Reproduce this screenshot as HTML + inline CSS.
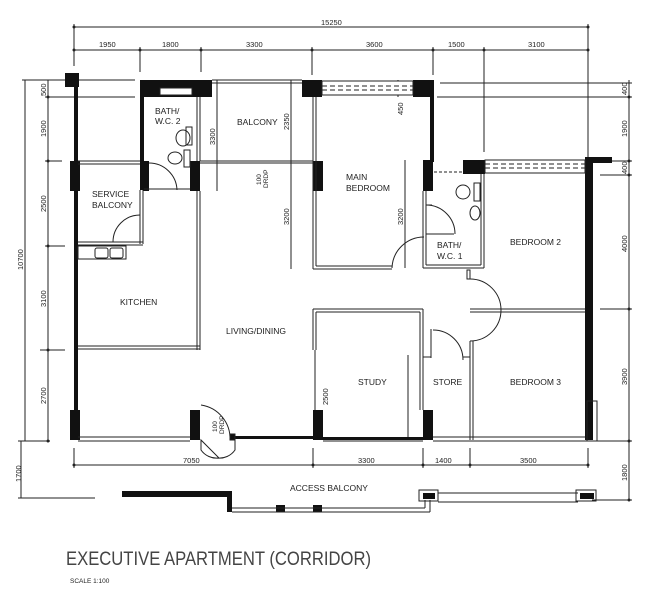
<!DOCTYPE html>
<html><head><meta charset="utf-8"><style>
html,body{margin:0;padding:0;background:#fff;}
svg{display:block;}
text{font-family:"Liberation Sans",sans-serif;fill:#222;}
</style></head><body>
<svg width="645" height="600" viewBox="0 0 645 600" xmlns="http://www.w3.org/2000/svg">
<g stroke="#222" stroke-width="1" fill="none">
<!-- top dims -->
<line x1="74" y1="27" x2="588" y2="27"/>
<line x1="74" y1="50" x2="588" y2="50"/>
<line x1="74" y1="24" x2="74" y2="66"/>
<line x1="588" y1="24" x2="588" y2="160"/>
<line x1="140" y1="47" x2="140" y2="72"/>
<line x1="201" y1="47" x2="201" y2="72"/>
<line x1="312" y1="47" x2="312" y2="75"/>
<line x1="433" y1="47" x2="433" y2="75"/>
<line x1="484" y1="47" x2="484" y2="152"/>
<!-- left dims -->
<line x1="25" y1="80" x2="25" y2="441"/>
<line x1="48" y1="80" x2="48" y2="441"/>
<line x1="21" y1="441" x2="21" y2="498"/>
<line x1="22" y1="80" x2="135" y2="80"/>
<line x1="45" y1="97" x2="135" y2="97"/>
<line x1="45" y1="161" x2="62" y2="161"/>
<line x1="45" y1="246" x2="65" y2="246"/>
<line x1="40" y1="350" x2="65" y2="350"/>
<line x1="18" y1="441" x2="50" y2="441"/>
<line x1="18" y1="498" x2="95" y2="498"/>
<!-- right dims -->
<line x1="629" y1="80" x2="629" y2="500"/>
<line x1="440" y1="83" x2="632" y2="83"/>
<line x1="437" y1="97" x2="632" y2="97"/>
<line x1="600" y1="161" x2="632" y2="161"/>
<line x1="600" y1="175" x2="632" y2="175"/>
<line x1="600" y1="309" x2="632" y2="309"/>
<line x1="600" y1="441" x2="632" y2="441"/>
<line x1="592" y1="500" x2="632" y2="500"/>
<!-- bottom dims -->
<line x1="74" y1="465" x2="588" y2="465"/>
<line x1="74" y1="448" x2="74" y2="468"/>
<line x1="313" y1="448" x2="313" y2="468"/>
<line x1="423" y1="448" x2="423" y2="468"/>
<line x1="470" y1="448" x2="470" y2="468"/>
<line x1="588" y1="448" x2="588" y2="468"/>
<!-- interior dims -->
<line x1="291" y1="80" x2="291" y2="269"/>
<line x1="217" y1="80" x2="217" y2="191"/>
<line x1="405" y1="160" x2="405" y2="268"/>
<line x1="398" y1="80" x2="398" y2="97"/>
<line x1="408" y1="355" x2="408" y2="440"/>
</g>
<g fill="#222">
<circle cx="74" cy="27" r="1.5"/><circle cx="588" cy="27" r="1.5"/>
<circle cx="74" cy="50" r="1.5"/><circle cx="140" cy="50" r="1.5"/><circle cx="201" cy="50" r="1.5"/><circle cx="312" cy="50" r="1.5"/><circle cx="433" cy="50" r="1.5"/><circle cx="484" cy="50" r="1.5"/><circle cx="588" cy="50" r="1.5"/>
<circle cx="48" cy="97" r="1.5"/><circle cx="48" cy="161" r="1.5"/><circle cx="48" cy="246" r="1.5"/><circle cx="48" cy="350" r="1.5"/><circle cx="48" cy="441" r="1.5"/>
<circle cx="629" cy="97" r="1.5"/><circle cx="629" cy="161" r="1.5"/><circle cx="629" cy="175" r="1.5"/><circle cx="629" cy="309" r="1.5"/><circle cx="629" cy="441" r="1.5"/><circle cx="629" cy="500" r="1.5"/>
<circle cx="74" cy="465" r="1.5"/><circle cx="313" cy="465" r="1.5"/><circle cx="423" cy="465" r="1.5"/><circle cx="470" cy="465" r="1.5"/><circle cx="588" cy="465" r="1.5"/>
</g>
<!-- walls -->
<g fill="#111">
<rect x="65" y="73" width="14" height="14"/>
<rect x="74" y="80" width="4" height="360"/>
<rect x="70" y="161" width="10" height="30"/>
<rect x="70" y="410" width="10" height="30"/>
<rect x="140" y="80" width="72" height="17"/>
<rect x="140" y="80" width="4" height="110"/>
<rect x="143" y="161" width="6" height="30"/>
<rect x="190" y="161" width="10" height="30"/>
<rect x="190" y="410" width="10" height="30"/>
<rect x="302" y="80" width="20" height="17"/>
<rect x="413" y="80" width="20" height="17"/>
<rect x="430" y="80" width="4" height="82"/>
<rect x="313" y="161" width="10" height="30"/>
<rect x="423" y="160" width="10" height="31"/>
<rect x="463" y="160" width="22" height="14"/>
<rect x="585" y="157" width="27" height="6"/>
<rect x="585" y="160" width="8" height="280"/>
<rect x="313" y="410" width="10" height="30"/>
<rect x="423" y="410" width="10" height="30"/>
<rect x="122" y="491" width="110" height="6"/>
<rect x="227" y="491" width="5" height="21"/>
<rect x="276" y="505" width="9" height="7"/>
<rect x="313" y="505" width="9" height="7"/>
<rect x="423" y="493" width="12" height="6"/>
<rect x="580" y="493" width="14" height="6"/>
<rect x="235" y="436" width="78" height="3"/>
<rect x="323" y="437" width="100" height="3"/>
</g>
<g stroke="#222" stroke-width="1" fill="none">
<!-- bottom wall double line -->
<line x1="78" y1="437" x2="190" y2="437"/><line x1="78" y1="441" x2="190" y2="441"/>
<line x1="433" y1="437" x2="585" y2="437"/><line x1="433" y1="441" x2="600" y2="441"/>
<line x1="323" y1="441" x2="423" y2="441"/>
<rect x="587" y="401" width="10" height="40"/>
<!-- kitchen / service balcony -->
<line x1="78" y1="161" x2="140" y2="161"/><line x1="78" y1="164" x2="140" y2="164"/>
<line x1="140" y1="190" x2="140" y2="244"/><line x1="143" y1="190" x2="143" y2="244"/>
<line x1="78" y1="242" x2="143" y2="242"/><line x1="78" y1="245" x2="143" y2="245"/>
<path d="M113 242 A27 27 0 0 1 140 215"/>
<rect x="78" y="246" width="48" height="13"/>
<rect x="95" y="248" width="13" height="10" rx="2"/><rect x="110" y="248" width="13" height="10" rx="2"/>
<line x1="197" y1="191" x2="197" y2="350"/><line x1="200" y1="191" x2="200" y2="350"/>
<line x1="78" y1="346" x2="200" y2="346"/><line x1="78" y1="349" x2="200" y2="349"/>
<!-- bath2 -->
<line x1="144" y1="189" x2="190" y2="189"/>
<line x1="197" y1="97" x2="197" y2="161"/><line x1="200" y1="97" x2="200" y2="161"/>
<path d="M149 163 A28 28 0 0 1 177 190"/>
<rect x="160" y="88" width="32" height="7" fill="#fff"/>
<ellipse cx="183" cy="138" rx="7" ry="8"/><ellipse cx="175" cy="158" rx="7" ry="6"/>
<rect x="186" y="127" width="6" height="18"/><rect x="184" y="150" width="6" height="17"/>
<!-- balcony -->
<line x1="212" y1="80" x2="302" y2="80"/><line x1="212" y1="83" x2="302" y2="83"/>
<line x1="200" y1="161" x2="313" y2="161"/><line x1="200" y1="163" x2="313" y2="163"/>
<!-- main bedroom -->
<rect x="322" y="81" width="91" height="14" fill="#fff"/>
<line x1="322" y1="86" x2="413" y2="86" stroke-dasharray="5 3"/>
<line x1="322" y1="90" x2="413" y2="90" stroke-dasharray="5 3"/>
<line x1="313" y1="97" x2="313" y2="269"/><line x1="316" y1="97" x2="316" y2="266"/>
<line x1="313" y1="269" x2="392" y2="269"/><line x1="316" y1="266" x2="392" y2="266"/>
<path d="M392 268 A32 32 0 0 1 424 237"/>
<!-- bath1 -->
<line x1="423" y1="191" x2="423" y2="268"/><line x1="426" y1="191" x2="426" y2="265"/>
<line x1="423" y1="268" x2="484" y2="268"/><line x1="426" y1="265" x2="481" y2="265"/>
<line x1="484" y1="174" x2="484" y2="268"/><line x1="481" y1="174" x2="481" y2="265"/>
<line x1="426" y1="205" x2="432" y2="205"/><line x1="426" y1="234" x2="454" y2="234"/>
<path d="M426 205 A29 29 0 0 1 455 234"/>
<line x1="434" y1="172" x2="463" y2="172" stroke-dasharray="3 2"/>
<ellipse cx="463" cy="192" rx="7" ry="7"/><ellipse cx="475" cy="213" rx="5" ry="7"/>
<rect x="474" y="183" width="6" height="18"/>
<!-- bedroom 2 window -->
<rect x="485" y="160" width="100" height="13" fill="#fff"/>
<line x1="485" y1="164" x2="585" y2="164" stroke-dasharray="5 3"/>
<line x1="485" y1="168" x2="585" y2="168" stroke-dasharray="5 3"/>
<!-- bedroom 2/3 split and door -->
<line x1="470" y1="309" x2="585" y2="309"/><line x1="470" y1="312" x2="585" y2="312"/>
<rect x="467" y="270" width="3" height="9"/>
<path d="M470 279 A28 28 0 0 1 470 341"/>
<line x1="470" y1="341" x2="470" y2="440"/><line x1="473" y1="341" x2="473" y2="440"/>
<!-- study -->
<line x1="313" y1="309" x2="423" y2="309"/><line x1="316" y1="312" x2="420" y2="312"/>
<line x1="313" y1="309" x2="313" y2="350"/><line x1="316" y1="312" x2="316" y2="350"/>
<line x1="315" y1="350" x2="315" y2="410"/>
<line x1="420" y1="312" x2="420" y2="410"/><line x1="423" y1="309" x2="423" y2="410"/>
<!-- store -->
<line x1="423" y1="357" x2="431" y2="357"/><line x1="431" y1="329" x2="431" y2="358"/>
<path d="M433 330 A30 30 0 0 1 463 360"/>
<line x1="463" y1="357" x2="470" y2="357"/>
<!-- entrance doors -->
<path d="M201 405 A34 34 0 0 1 230 440"/>
<path d="M201 440 L201 450 A19 19 0 0 0 219 458 Z"/>
<path d="M235 440 L235 450 A19 19 0 0 1 217 458"/>
<rect x="230" y="434" width="5" height="6" fill="#111"/>
<!-- access balcony -->
<line x1="232" y1="508" x2="425" y2="508"/><line x1="232" y1="512" x2="430" y2="512"/>
<line x1="425" y1="500" x2="425" y2="508"/><line x1="430" y1="500" x2="430" y2="512"/>
<rect x="419" y="490" width="19" height="11"/>
<line x1="438" y1="493" x2="578" y2="493"/><line x1="438" y1="502" x2="578" y2="502"/>
<rect x="576" y="490" width="20" height="11"/>
</g>
<!-- labels -->
<g font-size="7.5">
<text x="99" y="47">1950</text><text x="162" y="47">1800</text><text x="246" y="47">3300</text>
<text x="366" y="47">3600</text><text x="448" y="47">1500</text><text x="528" y="47">3100</text>
<text x="321" y="25">15250</text>
<text x="183" y="463">7050</text><text x="358" y="463">3300</text><text x="435" y="463">1400</text><text x="520" y="463">3500</text>
</g>
<g font-size="7.5">
<text transform="translate(46,96) rotate(-90)">500</text>
<text transform="translate(46,137) rotate(-90)">1900</text>
<text transform="translate(46,212) rotate(-90)">2500</text>
<text transform="translate(46,307) rotate(-90)">3100</text>
<text transform="translate(46,404) rotate(-90)">2700</text>
<text transform="translate(23,270) rotate(-90)">10700</text>
<text transform="translate(21,482) rotate(-90)">1700</text>
<text transform="translate(627,95) rotate(-90)">400</text>
<text transform="translate(627,137) rotate(-90)">1900</text>
<text transform="translate(627,174) rotate(-90)">400</text>
<text transform="translate(627,252) rotate(-90)">4000</text>
<text transform="translate(627,385) rotate(-90)">3900</text>
<text transform="translate(627,481) rotate(-90)">1800</text>
<text transform="translate(215,145) rotate(-90)">3300</text>
<text transform="translate(289,130) rotate(-90)">2350</text>
<text transform="translate(289,225) rotate(-90)">3200</text>
<text transform="translate(403,225) rotate(-90)">3200</text>
<text transform="translate(328,405) rotate(-90)">2500</text>
<text transform="translate(403,115) rotate(-90)">450</text>
<text transform="translate(261,185) rotate(-90)" font-size="6.5">100</text>
<text transform="translate(268,188) rotate(-90)" font-size="6.5">DRDP</text>
<text transform="translate(217,432) rotate(-90)" font-size="6.5">100</text>
<text transform="translate(224,434) rotate(-90)" font-size="6.5">DRDP</text>
</g>
<g font-size="8.5">
<text x="155" y="114">BATH/</text><text x="155" y="124">W.C. 2</text>
<text x="237" y="125">BALCONY</text>
<text x="346" y="180">MAIN</text><text x="346" y="191">BEDROOM</text>
<text x="92" y="197">SERVICE</text><text x="92" y="208">BALCONY</text>
<text x="437" y="248">BATH/</text><text x="437" y="259">W.C. 1</text>
<text x="510" y="245">BEDROOM 2</text>
<text x="120" y="305">KITCHEN</text>
<text x="226" y="334">LIVING/DINING</text>
<text x="358" y="385">STUDY</text>
<text x="433" y="385">STORE</text>
<text x="510" y="385">BEDROOM 3</text>
<text x="290" y="491">ACCESS BALCONY</text>
</g>
<text x="66" y="565" font-size="19" textLength="305" lengthAdjust="spacingAndGlyphs" style="fill:#444">EXECUTIVE APARTMENT (CORRIDOR)</text>
<text x="70" y="583" font-size="6.5">SCALE  1:100</text>
</svg>
</body></html>
